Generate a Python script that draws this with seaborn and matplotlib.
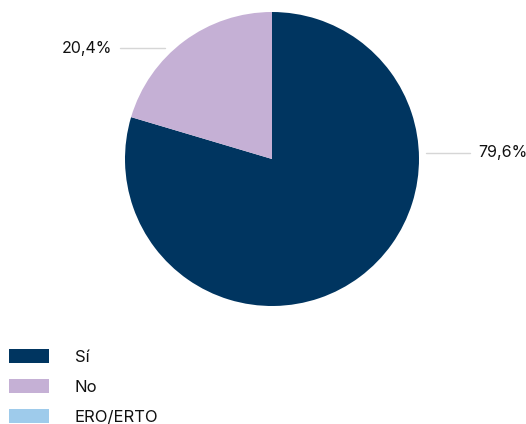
import matplotlib
matplotlib.use("Agg")
import matplotlib.pyplot as plt
from matplotlib.patches import Patch
import seaborn as sns

categories = ["Sí", "No", "ERO/ERTO"]
values = [79.6, 20.4, 0.0]
colors = ["#003560", "#c5b0d5", "#9ecbeb"]

sns.set_theme(style="white")
plt.rcParams["font.family"] = ["Inter", "DejaVu Sans"]

W, H = 526, 424
fig = plt.figure(figsize=(W / 100, H / 100), dpi=100)
fig.patch.set_facecolor("white")

cx, cy, r = 272, 159, 147
ax = fig.add_axes([(cx - r) / W, (H - cy - r) / H, 2 * r / W, 2 * r / H])

shown = [(v, c) for v, c in zip(values, colors) if v > 0]
ax.pie([v for v, _ in shown], colors=[c for _, c in shown], startangle=90,
       counterclock=False, radius=1.0, wedgeprops=dict(linewidth=0))
ax.set_xlim(-1, 1)
ax.set_ylim(-1, 1)
ax.set_aspect("equal")
ax.axis("off")

def fmt(v):
    return f"{v:.1f}".replace(".", ",") + "%"

# leader lines and value labels
ax.plot([1.048, 1.347], [0.041, 0.041], color="#d6d6d6", lw=1, clip_on=False)
ax.text(1.40, 0.041, fmt(values[0]), ha="left", va="center", fontsize=11.5, color="#111111")
ax.plot([-1.034, -0.728], [0.755, 0.755], color="#d6d6d6", lw=1, clip_on=False)
ax.text(-1.088, 0.755, fmt(values[1]), ha="right", va="center", fontsize=11.5, color="#111111")

handles = [Patch(facecolor=c, edgecolor="none") for c in colors]
fig.legend(handles, categories, loc="upper left", bbox_to_anchor=(9 / W, 1 - 349 / H),
           frameon=False, fontsize=12, handlelength=2.4, handleheight=0.9,
           handletextpad=1.56, labelspacing=0.86, borderaxespad=0, borderpad=0,
           labelcolor="#111111")

fig.savefig("out.png", dpi=100, facecolor="white")
